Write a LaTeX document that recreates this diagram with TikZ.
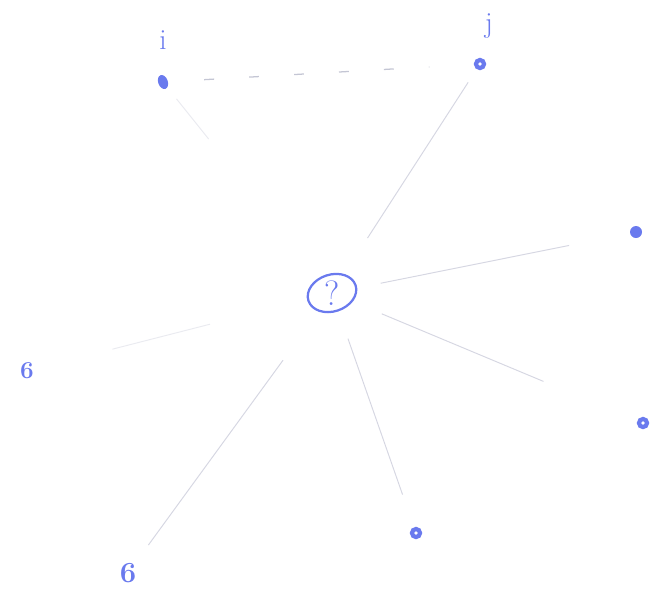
\documentclass[tikz,border=0pt]{standalone}
\usetikzlibrary{calc,shapes.geometric}
\definecolor{sketchblue}{RGB}{106,122,238}
\definecolor{faintline}{RGB}{214,215,226}
\definecolor{dashgray}{RGB}{196,198,212}

\begin{document}
\begin{tikzpicture}[x=0.025cm, y=-0.025cm,
  dot/.style={circle,fill=sketchblue,inner sep=0pt,minimum size=0.3cm},
  ring/.style={circle,draw=sketchblue,fill=white,line width=3pt,inner sep=0pt,minimum size=0.2cm},
  digit/.style={text=sketchblue,font=\bfseries,inner sep=0pt},
  lbl/.style={text=sketchblue,font=\huge,inner sep=0pt},
  spoke/.style={faintline,line width=0.7pt},
  link/.style={dashgray,line width=0.9pt,dash pattern=on 7pt off 25pt}]
\useasboundingbox (0,0) rectangle (669,595);
% centre
\node[text=sketchblue,font=\fontsize{25}{27}\selectfont,inner sep=0pt] (nq) at (332,293) {?};
\draw[sketchblue,line width=1.6pt,rotate around={18:(nq)}] (nq) ellipse (0.62cm and 0.46cm);
% top pair
\node[ellipse,fill=sketchblue,inner sep=0pt,minimum width=0.24cm,minimum height=0.36cm,rotate=20] (ni) at (163,82) {};
\node[lbl] (li) at (163,40) {i};
\node[ring] (nj) at (480,64) {};
\node[lbl] (lj) at (489,26) {j};
% right side
\node[dot] (ne) at (636,232) {};
\node[ring] (nse) at (643,423) {};
\node[ring] (ns) at (416,533) {};
% left side
\node[digit,font=\LARGE\bfseries] (nw) at (27,371) {6};
\node[digit,font=\huge\bfseries] (nsw) at (128,573) {6};
% spokes
\draw[spoke] ($(nq)!0.24!(nj)$) -- ($(nq)!0.92!(nj)$);
\draw[spoke] ($(nq)!0.16!(ne)$) -- ($(nq)!0.78!(ne)$);
\draw[spoke] ($(nq)!0.16!(nse)$) -- ($(nq)!0.68!(nse)$);
\draw[spoke] ($(nq)!0.19!(ns)$) -- ($(nq)!0.84!(ns)$);
\draw[spoke] ($(nq)!0.24!(nsw)$) -- ($(nq)!0.90!(nsw)$);
\draw[spoke,opacity=0.5] ($(nq)!0.40!(nw)$) -- ($(nq)!0.72!(nw)$);
\draw[spoke,opacity=0.5] ($(nq)!0.73!(ni)$) -- ($(nq)!0.92!(ni)$);
% dashed link
\draw[link] ($(ni)!0.13!(nj)$) -- ($(ni)!0.84!(nj)$);
\end{tikzpicture}
\end{document}
